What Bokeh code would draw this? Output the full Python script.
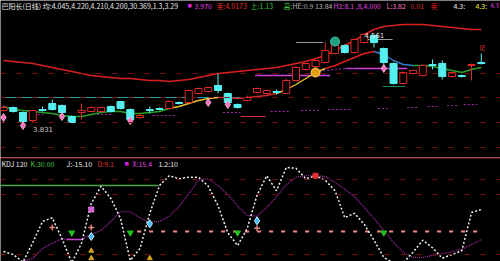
from bokeh.plotting import figure
from bokeh.layouts import column
from bokeh.models import Label, Range1d, Span
from bokeh.core.properties import value
from bokeh.embed import file_html
from bokeh.resources import INLINE

# ---------------- data ----------------
idx = list(range(50))
opens = [3.945, 3.969, 3.929, 3.865, 3.953, 4.001, 3.985, 3.897, 3.929, 3.937,
         3.937, 3.977, 4.017, 3.953, 3.889, 3.953, 3.961, 3.961, 4.009, 4.009,
         4.081, 4.097, 4.145, 4.081, 3.993, 4.025, 4.089, 4.081, 4.097, 4.081,
         4.185, 4.273, 4.297, 4.329, 4.401, 4.465, 4.409, 4.489, 4.545, 4.441,
         4.321, 4.161, 4.241, 4.225, 4.313, 4.321, 4.217, 4.225, 4.305, 4.329]
closes = [3.969, 3.937, 3.857, 3.945, 3.945, 3.953, 3.929, 3.849, 3.945, 3.969,
          3.969, 3.937, 3.961, 3.873, 3.905, 3.945, 3.953, 4.017, 4.001, 4.105,
          4.121, 4.129, 4.105, 4.009, 3.969, 4.049, 4.121, 4.105, 4.089, 4.185,
          4.289, 4.321, 4.345, 4.425, 4.489, 4.409, 4.513, 4.553, 4.489, 4.329,
          4.161, 4.249, 4.265, 4.305, 4.305, 4.217, 4.249, 4.217, 4.313, 4.321]
highs = [3.985, 3.977, 3.937, 3.945, 3.977, 4.033, 3.993, 3.905, 4.001, 3.977,
         3.977, 3.985, 4.017, 3.961, 3.921, 3.977, 3.969, 4.025, 4.017, 4.113,
         4.129, 4.137, 4.241, 4.089, 4.001, 4.065, 4.129, 4.113, 4.113, 4.201,
         4.297, 4.329, 4.353, 4.489, 4.505, 4.473, 4.521, 4.561, 4.553, 4.449,
         4.329, 4.257, 4.273, 4.313, 4.353, 4.345, 4.257, 4.233, 4.321, 4.401]
lows = [3.937, 3.929, 3.831, 3.849, 3.937, 3.945, 3.921, 3.845, 3.873, 3.929,
        3.929, 3.929, 3.953, 3.865, 3.881, 3.921, 3.945, 3.953, 3.993, 4.001,
        4.073, 4.089, 4.081, 4.001, 3.961, 4.017, 4.081, 4.073, 4.073, 4.081,
        4.177, 4.265, 4.289, 4.321, 4.393, 4.401, 4.401, 4.481, 4.449, 4.281,
        4.153, 4.153, 4.233, 4.217, 4.273, 4.193, 4.209, 4.209, 4.185, 4.313]
ma = [3.977, 3.953, 3.945, 3.937, 3.929, 3.921, 3.905, 3.897, 3.897, 3.913,
      3.929, 3.937, 3.937, 3.921, 3.921, 3.929, 3.937, 3.961, 3.977, 4.001,
      4.025, 4.041, 4.049, 4.049, 4.041, 4.049, 4.057, 4.065, 4.081, 4.113,
      4.153, 4.201, 4.249, 4.281, 4.305, 4.337, 4.369, 4.401, 4.417, 4.393,
      4.345, 4.313, 4.305, 4.305, 4.297, 4.281, 4.265, 4.249, 4.273, 4.289]
upper = [4.345, 4.337, 4.329, 4.321, 4.305, 4.289, 4.273, 4.257, 4.241, 4.225,
         4.217, 4.209, 4.201, 4.201, 4.193, 4.185, 4.185, 4.177, 4.185, 4.193,
         4.209, 4.225, 4.241, 4.249, 4.257, 4.265, 4.273, 4.281, 4.289, 4.305,
         4.321, 4.337, 4.361, 4.385, 4.425, 4.465, 4.505, 4.553, 4.593, 4.617,
         4.625, 4.633, 4.633, 4.633, 4.625, 4.617, 4.609, 4.601, 4.593, 4.593]
# support / resistance levels (start idx, end idx, price)
teal_level = (-0.4, 24.8, 4.049)
mag_dash_start = [3.1, 9.6, 15.3, 22.5, 27.4, 30.5, 33.3, 38.4, 41.4, 43.5, 45.5, 47.2]
mag_dash_end = [4.1, 11.3, 17.8, 24.3, 29.4, 32.5, 35.6, 39.4, 42.5, 44.5, 46.6, 48.6]
mag_dash_level = [3.913, 3.913, 3.905, 3.929, 3.937, 3.945, 3.953, 3.961, 3.969, 3.977, 3.985, 3.993]
mag_level_start = [25.8, 35.1]
mag_level_end = [33.5, 41.4]
mag_level = [4.225, 4.281]
gray_start = [30.0, 36.9]
gray_end = [32.8, 39.9]
gray_level = [4.489, 4.513]
sig_pink_idx = [0, 2, 6, 13, 21, 23, 39]
sig_pink_px = [3.889, 3.825, 3.897, 3.865, 4.009, 3.993, 4.281]
grid_top = [4.241, 4.049, 3.849, 3.649]

# oscillator
J = [4, 0, -10, 16, 44, 49, 21, -11, 15, 68, 91, 75, 48, -8, 8, 55, 92, 105, 101, 103,
     103, 91, 65, 29, 12, 35, 79, 105, 85, 116, 115, 101, 105, 99, 85, 49, 55, 40, 19, -4,
     -11, -11, 3, 19, 9, -5, 0, 5, 56, 60]
D = [-15, -12, -9, -5, 8, 15, 21, 20, 20, 27, 32, 44, 57, 57, 49, 43, 44, 51, 64, 81,
     99, 101, 92, 80, 65, 52, 51, 63, 77, 93, 103, 105, 105, 104, 96, 87, 77, 63, 48, 32,
     16, 3, -4, -4, -1, 1, 4, 7, 13, 20]
grid_bot = [100, 80, 0]
green_level = (-0.4, 15.9, 92)
pink_level = (13.7, 49.4, 30.7)
buy_idx = [7, 13, 24, 39]
pink_sig_idx = [5, 9, 26]
cyan_sig_idx = [9, 15, 26]
cyan_sig_val = [24, 41, 45]

# ---------------- figures ----------------
XR = Range1d(-0.31, 50.97)
CJK = "Noto Sans CJK SC"


def mkfig(h, yr):
    p = figure(width=500, height=h, x_range=XR, y_range=yr, toolbar_location=None,
               output_backend="svg", x_axis_location=None, y_axis_location=None,
               min_border=0, min_border_left=0, min_border_right=0,
               min_border_top=0, min_border_bottom=0)
    p.background_fill_color = "black"
    p.border_fill_color = "black"
    p.outline_line_color = None
    p.xgrid.visible = False
    p.ygrid.visible = False
    return p


top = mkfig(157, Range1d(3.569, 4.825))
for g in grid_top:
    top.add_layout(Span(location=g, dimension="width", line_color="#7a1212",
                        line_width=1, line_dash="5 11"))

top.segment(x0=[teal_level[0]], x1=[teal_level[1]], y0=[teal_level[2]], y1=[teal_level[2]],
            line_color="#2a9a9a", line_width=1.2)
top.segment(x0=mag_dash_start, x1=mag_dash_end, y0=mag_dash_level, y1=mag_dash_level,
            line_color="#a828b0", line_width=1.2, line_dash="2 2")
top.segment(x0=mag_level_start, x1=mag_level_end, y0=mag_level, y1=mag_level,
            line_color="#d040d8", line_width=1.5)
top.segment(x0=gray_start, x1=gray_end, y0=gray_level, y1=gray_level,
            line_color="#9a9a9a", line_width=1.2)
top.segment(x0=[24.3], x1=[26.9], y0=[3.897], y1=[3.897], line_color="#d03030", line_width=1.2)
top.segment(x0=[38.9], x1=[41.2], y0=[4.137], y1=[4.137], line_color="#1a8a5a", line_width=1.2)
top.line(x=[32, 33, 34, 35, 36], y=[4.249, 4.265, 4.273, 4.281, 4.281],
         line_color="#8030a0", line_width=1.2, line_dash="2 2")

# upper band
top.line(x=idx, y=upper, line_color="#d82020", line_width=1.6)

# moving average with colour segments
ma_style = [(0, 17, "#28a028"), (17, 22, "#e8c030"), (22, 28, "#c82828"),
            (28, 33, "#e8c030"), (33, 38, "#e02020"), (38, 42, "#3a7ad0"),
            (42, 49, "#28a028")]
for a, b, col in ma_style:
    top.line(x=idx[a:b + 1], y=ma[a:b + 1], line_color=col, line_width=1.4)

# candles
up = [i for i in idx if closes[i] >= opens[i]]
dn = [i for i in idx if closes[i] < opens[i]]
RED = "#e02828"
CYAN = "#54f0f0"
top.segment(x0=dn, x1=dn, y0=[highs[i] for i in dn], y1=[lows[i] for i in dn],
            line_color=CYAN, line_width=1)
top.vbar(x=dn, width=0.72, top=[opens[i] for i in dn], bottom=[closes[i] for i in dn],
         fill_color=CYAN, line_color=CYAN, line_width=1)
top.segment(x0=up, x1=up, y0=[highs[i] for i in up], y1=[closes[i] for i in up],
            line_color=RED, line_width=1)
top.segment(x0=up, x1=up, y0=[opens[i] for i in up], y1=[lows[i] for i in up],
            line_color=RED, line_width=1)
top.vbar(x=up, width=0.72, top=[closes[i] for i in up], bottom=[opens[i] for i in up],
         fill_color="black", line_color=RED, line_width=1)

# signals
top.scatter(x=sig_pink_idx, y=sig_pink_px, marker="diamond", size=8,
            fill_color="#ff70c0", line_color="#ffc0e0", line_width=0.8)
top.scatter(x=[32], y=[4.249], marker="circle", size=9, fill_color="#e0a010",
            line_color="#ffd060")
top.scatter(x=[34], y=[4.497], marker="circle", size=9, fill_color="#20a080",
            line_color="#40c0a0")

hi_i = max(idx, key=lambda i: highs[i])
lo_i = min(idx, key=lambda i: lows[i])
top.text(x=[hi_i], y=[highs[hi_i]], text=["%.3f" % highs[hi_i]], text_color="#e0e0e0",
         text_font=value("DejaVu Sans"), text_font_size="7px", text_baseline="middle",
         x_offset=0, y_offset=1)
top.text(x=[lo_i], y=[lows[lo_i]], text=["%.3f" % lows[lo_i]], text_color="#c8c8c8",
         text_font=value("DejaVu Sans"), text_font_size="7px", text_baseline="middle",
         x_offset=10, y_offset=4)


def hdr(p, x, y, txt, col, size="7px"):
    p.add_layout(Label(x=x, y=y, x_units="screen", y_units="screen", text=txt,
                       text_color=col, text_font=CJK, text_font_size=size,
                       text_baseline="middle"))


ty = 152
hdr(top, 1, ty, "巴阳长(日线) 均:4.045,4.220,4.210,4.200,30.369,1.3,3.29", "#e8e8e8")
top.add_layout(Label(x=187, y=ty - 3, x_units="screen", y_units="screen", text="■",
                     text_color="#e020e0", text_font_size="7px"))
hdr(top, 194, ty, "3.970", "#e040e0")
hdr(top, 216, ty, "卖:4.0173", "#e03030")
hdr(top, 250, ty, "上:1.13", "#40c040")
hdr(top, 283, ty, "高:", "#40c040")
hdr(top, 292, ty, "HE:0.9 13.84", "#b0b0b0")
hdr(top, 333, ty, "H2:8.1 ,8,4.000", "#e040e0")
hdr(top, 386, ty, "L:3.82", "#ff70c0")
hdr(top, 410, ty, "0.01", "#d03030")
hdr(top, 430, ty, "卖", "#e02020")
hdr(top, 453, ty, "4.3:", "#f0f0f0")
hdr(top, 475, ty, "4.3:", "#f0f040")
hdr(top, 490, ty, "4.3", "#e040e0", "6px")
hdr(top, 479, 110, "IE", "#d03030")

# ---------------- bottom oscillator ----------------
bot = mkfig(104, Range1d(-9.33, 129.33))
bot.add_layout(Span(location=128.7, dimension="width", line_color="#b01818", line_width=1.2))
for g in grid_bot:
    bot.add_layout(Span(location=g, dimension="width", line_color="#7a1212",
                        line_width=1, line_dash="5 11"))
bot.segment(x0=[green_level[0]], x1=[green_level[1]], y0=[green_level[2]], y1=[green_level[2]],
            line_color="#48a848", line_width=1.3)
bot.segment(x0=[pink_level[0]], x1=[pink_level[1]], y0=[pink_level[2]], y1=[pink_level[2]],
            line_color="#f08888", line_width=2, line_dash="4 8")
bot.line(x=idx, y=D, line_color="#b030b0", line_width=1.2, line_dash="1 1")
bot.segment(x0=[6.5], x1=[8.2], y0=[20], y1=[20], line_color="#d040d0", line_width=1.5)
bot.line(x=idx, y=J, line_color="#f0f0f0", line_width=1.5, line_dash="2 2")

bot.scatter(x=buy_idx, y=[29] * len(buy_idx), marker="inverted_triangle", size=6,
            fill_color="#20c020", line_color="#20c020")
bot.scatter(x=pink_sig_idx, y=[36, 36, 35], marker="cross", size=6,
            line_color="#e08080", line_width=1.5)
bot.scatter(x=cyan_sig_idx, y=cyan_sig_val, marker="diamond", size=8,
            fill_color="#40b8ff", line_color="#c0f0ff")
bot.scatter(x=[9], y=[60], marker="square_x", size=5, fill_color="#c040c0", line_color="#e080e0")
bot.scatter(x=[9, 9, 15], y=[5, -5, -5], marker="triangle", size=5,
            fill_color="#d0a020", line_color="#d0a020")
bot.scatter(x=[32], y=[105], marker="square", size=5, fill_color="#e03030", line_color="#e03030")

by = 98
hdr(bot, 1, by, "KDJ 120", "#e8e8e8")
hdr(bot, 30, by, "K:30.00", "#40c040")
hdr(bot, 66, by, "J:-15.10", "#e8e8e8")
hdr(bot, 97, by, "D:9.1", "#e03030")
bot.add_layout(Label(x=124, y=by - 3, x_units="screen", y_units="screen", text="■",
                     text_color="#e020e0", text_font_size="7px"))
hdr(bot, 132, by, "X:15.4", "#e040e0")
hdr(bot, 158, by, "1.2:10", "#e8e8e8")

layout = column(top, bot, spacing=0)
open("out.html", "w").write(file_html(layout, INLINE))
